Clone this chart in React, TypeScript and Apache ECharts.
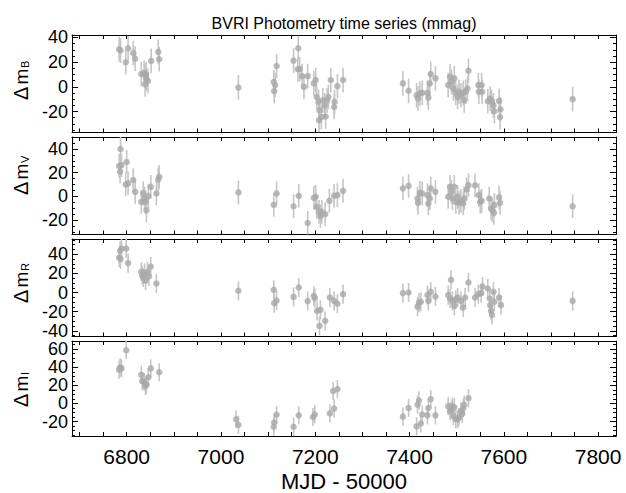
import React, { useEffect, useRef } from "react";
import * as echarts from "echarts";

// ---- data: [MJD - 50000, delta mag (mmag)] ----
const bandB: number[][] = [
  [6784, 30.5], [6787, 29.4], [6798, 19.9], [6803, 31.3], [6814, 27.3], [6818, 22.9],
  [6831, 10.4], [6837, 11.4], [6840, 8.7], [6842, 6.5], [6839, 2], [6845, 4.6], [6841, 10],
  [6852, 21], [6867, 28.3], [6869, 22.4], [7037, -0.5], [7112, 4], [7113, -3.5], [7115, 1.4],
  [7118, 16.9], [7154, 21.2], [7164, 31.3], [7163, 14.2], [7167, 14.4], [7172, 8.7], [7176, 0],
  [7184, 8.7], [7197, 2.8], [7201, 5.5], [7203, -8.2], [7207, -12.2], [7209, -19], [7208, -27],
  [7213, -24.5], [7216, -10.9], [7220, -15], [7222, -24], [7225, -10.9], [7228, -8.2],
  [7233, 5.5], [7240, -16.3], [7241, -12.2], [7247, 0.6], [7259, 5.5], [7386, 2.8],
  [7398, -3.2], [7415, -6.8], [7418, -9.5], [7422, -5.4], [7427, -4.9], [7438, -4.9],
  [7440, -8.7], [7443, 2.8], [7445, 10.4], [7455, 6.9], [7482, 1.4], [7486, 8.2], [7489, 4],
  [7493, -1.4], [7495, 6.9], [7498, -4.9], [7502, -8.2], [7505, -4], [7509, -6.8], [7514, -4.9],
  [7516, -10.9], [7519, -4], [7523, -1.4], [7525, 13], [7546, 1.4], [7547, -4], [7553, 1.4],
  [7554, -4], [7566, -11.7], [7571, -9.5], [7574, -12.2], [7578, -15], [7580, -19.8],
  [7590, -11.4], [7593, -18.2], [7592, -24.5], [7746, -10],
];

const bandV: number[][] = [
  [6787, 39.9], [6784, 25.6], [6786, 20.8], [6789, 26.4], [6800, 29], [6798, 10.1], [6803, 11],
  [6814, 13.8], [6818, 3.9], [6831, -4.6], [6835, 2.5], [6838, -1.7], [6840, -4.6], [6842, -11.6],
  [6846, 0.3], [6851, 8.1], [6863, 2.5], [6867, 14.3], [6869, 16.5], [7037, 3.4], [7112, -7.1],
  [7118, 2.5], [7154, -8.2], [7165, 0.5], [7184, -22.3], [7197, -1.2], [7201, -0.3], [7203, -8.8],
  [7208, -13], [7211, -16.6], [7214, -13], [7221, -14.9], [7230, -3.7], [7240, 0.5], [7247, 1.1],
  [7259, 4.7], [7386, 6.8], [7398, 8.9], [7417, -1.7], [7418, -5.4], [7422, 3], [7427, 2.5],
  [7438, 1.1], [7440, -5.9], [7443, -1.7], [7445, 6.8], [7455, 3.9], [7482, -0.3], [7486, 8.1],
  [7489, 3.9], [7491, -1.7], [7495, 8.1], [7498, -4.6], [7502, -0.3], [7505, -5.4], [7509, -3.7],
  [7514, -5.9], [7516, -1.7], [7521, 5.9], [7525, 9.5], [7539, 9.3], [7547, 1.1], [7550, -4.6],
  [7553, -3.7], [7569, -1.7], [7573, -10.1], [7576, -11.6], [7579, -13.8], [7580, -7.3],
  [7590, -0.8], [7592, -5.4], [7746, -8.2],
];

const bandR: number[][] = [
  [6784, 36.6], [6786, 43.7], [6787, 35], [6789, 46.1], [6799, 46.1], [6803, 30.8], [6831, 21.7],
  [6833, 18.2], [6835, 15.7], [6838, 20.3], [6840, 12.3], [6844, 21.7], [6847, 16.8], [6851, 27.2],
  [6863, 9.4], [7037, 1.8], [7112, 2.8], [7113, -11.1], [7118, -8.4], [7154, -4.5], [7165, 5.2],
  [7184, -9], [7197, -3.5], [7199, -5.9], [7204, -19.2], [7209, -34.9], [7211, -18.1],
  [7221, -29.6], [7231, -5.2], [7240, -8.7], [7247, -11.8], [7259, -1.7], [7386, -0.6], [7398, 0],
  [7417, -14.7], [7420, -10.5], [7424, -9.7], [7438, -2.7], [7440, -8.7], [7445, 0.7],
  [7455, -4.2], [7482, -2.7], [7488, 13.3], [7486, -6.3], [7491, -8.7], [7495, -13.9],
  [7498, -7.6], [7502, -5.2], [7509, -8.7], [7514, -15.7], [7518, -5.2], [7525, 10.5],
  [7539, -5.2], [7546, -1.7], [7552, -0.6], [7555, 6.3], [7566, 4.2], [7570, -6.3], [7571, -13.2],
  [7573, -19.2], [7575, -23.4], [7578, 0.7], [7580, -9.7], [7590, -5.2], [7594, -13.2],
  [7746, -8.7],
];

const bandI: number[][] = [
  [6784, 37.3], [6786, 39.8], [6789, 38.7], [6799, 58.8], [6831, 31.6], [6833, 24.7], [6837, 23.7],
  [6840, 19.4], [6842, 20.9], [6846, 29], [6851, 38.7], [6869, 34.4], [7032, -17.5], [7037, -23.7],
  [7112, -25.8], [7113, -21.1], [7118, -12.5], [7154, -25.8], [7165, -13.2], [7195, -15],
  [7199, -12.2], [7231, -11], [7238, 13.7], [7240, -5.7], [7247, 15.8], [7386, -14.6], [7398, -5],
  [7415, -25.4], [7417, -1.4], [7420, 3.2], [7424, -22.2], [7427, -12.2], [7438, -13.2],
  [7440, -5], [7445, 4.7], [7455, -13.2], [7482, -3.2], [7486, -8.6], [7489, -6.8], [7491, -3.2],
  [7493, -14], [7495, -4.3], [7498, -17.5], [7502, -17.5], [7505, -15], [7509, -8.6],
  [7512, -11.4], [7514, -5], [7516, -1.4], [7525, 5.8],
];

// typical 1-sigma error per band (mmag)
const errB = 10;
const errV = 10;
const errR = 10;
const errI = 10;

// ---- ticks ----
const xTickValues = [6700, 6750, 6800, 6850, 6900, 6950, 7000, 7050, 7100, 7150, 7200, 7250, 7300,
  7350, 7400, 7450, 7500, 7550, 7600, 7650, 7700, 7750, 7800];
const xLabelValues = [6800, 7000, 7200, 7400, 7600, 7800];

const yMajorB = [-20, 0, 20, 40];
const yMinorB = [-35, -30, -25, -20, -15, -10, -5, 0, 5, 10, 15, 20, 25, 30, 35, 40];
const yMajorV = [-20, 0, 20, 40];
const yMinorV = [-30, -25, -20, -15, -10, -5, 0, 5, 10, 15, 20, 25, 30, 35, 40, 45];
const yMajorR = [-40, -20, 0, 20, 40];
const yMinorR = [-45, -40, -35, -30, -25, -20, -15, -10, -5, 0, 5, 10, 15, 20, 25, 30, 35, 40, 45, 50, 55];
const yMajorI = [-20, 0, 20, 40, 60];
const yMinorI = [-35, -30, -25, -20, -15, -10, -5, 0, 5, 10, 15, 20, 25, 30, 35, 40, 45, 50, 55, 60, 65];

const bandNames = ["B", "V", "R", "I"];
const titleText = "BVRI Photometry time series (mmag)";
const xName = "MJD - 50000";

const FONT = "'Liberation Sans', Arial, Helvetica, sans-serif";
const X_MIN = 6684;
const X_MAX = 7838;
const GRID_LEFT = 72;
const GRID_WIDTH = 544;

const panels = [
  { data: bandB, err: errB, min: -37, max: 42, top: 35, height: 97.5, major: yMajorB, minor: yMinorB, labelY: 100 },
  { data: bandV, err: errV, min: -32, max: 50, top: 137, height: 97.5, major: yMajorV, minor: yMinorV, labelY: 195 },
  { data: bandR, err: errR, min: -46, max: 56, top: 239, height: 97.5, major: yMajorR, minor: yMinorR, labelY: 303 },
  { data: bandI, err: errI, min: -36, max: 69, top: 341, height: 97.5, major: yMajorI, minor: yMinorI, labelY: 407 },
];

export default function App() {
  const ref = useRef<HTMLDivElement>(null);

  useEffect(() => {
    if (!ref.current) return;
    const chart = echarts.init(ref.current, null, { renderer: "svg" });

    const grid: any[] = [];
    const xAxis: any[] = [];
    const yAxis: any[] = [];
    const series: any[] = [];
    const graphic: any[] = [];

    const lineStyle = { color: "#000", width: 1 };
    const yLabelStyle = {
      show: true, margin: 4, fontSize: 18, color: "#000", fontFamily: FONT,
      formatter: (v: number) => String(v),
    };

    panels.forEach((p, i) => {
      grid.push({ left: GRID_LEFT, width: GRID_WIDTH, top: p.top, height: p.height, containLabel: false });
      const last = i === panels.length - 1;
      // bottom x axis
      xAxis.push({
        type: "value", gridIndex: i, position: "bottom", min: X_MIN, max: X_MAX,
        axisLine: { show: true, onZero: false, lineStyle },
        axisTick: { show: true, inside: true, length: 4, customValues: xTickValues, lineStyle },
        axisLabel: {
          show: last, customValues: xLabelValues, margin: 10, fontSize: 21,
          color: "#000", fontFamily: FONT,
          formatter: (v: number) => String(v),
        },
        splitLine: { show: false },
        name: last ? xName : "",
        nameLocation: "middle", nameGap: 34,
        nameTextStyle: { fontSize: 22, color: "#000", fontFamily: FONT },
      });
      // top x axis (mirror ticks)
      xAxis.push({
        type: "value", gridIndex: i, position: "top", min: X_MIN, max: X_MAX,
        axisLine: { show: true, onZero: false, lineStyle },
        axisTick: { show: true, inside: true, length: 4, customValues: xTickValues, lineStyle },
        axisLabel: { show: false },
        splitLine: { show: false },
      });
      const baseY = { type: "value", gridIndex: i, min: p.min, max: p.max, splitLine: { show: false } };
      // labels split over two overlaid axes so none gets auto-hidden
      const labelsA = p.major.filter((_, k) => k % 2 === 0);
      const labelsB = p.major.filter((_, k) => k % 2 === 1);
      // left major
      yAxis.push({
        ...baseY, position: "left",
        axisLine: { show: true, onZero: false, lineStyle },
        axisTick: { show: true, inside: true, length: 6, customValues: p.major, lineStyle },
        axisLabel: { ...yLabelStyle, customValues: labelsA },
      });
      // left minor
      yAxis.push({
        ...baseY, position: "left",
        axisLine: { show: false },
        axisTick: { show: true, inside: true, length: 3, customValues: p.minor, lineStyle },
        axisLabel: { ...yLabelStyle, customValues: labelsB },
      });
      // right major
      yAxis.push({
        ...baseY, position: "right",
        axisLine: { show: true, onZero: false, lineStyle },
        axisTick: { show: true, inside: true, length: 6, customValues: p.major, lineStyle },
        axisLabel: { show: false },
      });
      // right minor
      yAxis.push({
        ...baseY, position: "right",
        axisLine: { show: false },
        axisTick: { show: true, inside: true, length: 3, customValues: p.minor, lineStyle },
        axisLabel: { show: false },
      });

      const err = p.err;
      series.push({
        type: "custom",
        xAxisIndex: 2 * i,
        yAxisIndex: 4 * i,
        clip: true,
        z: 1,
        silent: true,
        data: p.data.map((d) => [d[0], d[1]]),
        encode: { x: 0, y: 1 },
        renderItem: (params: any, api: any) => {
          const x = api.value(0);
          const y = api.value(1);
          const a = api.coord([x, y - err]);
          const b = api.coord([x, y + err]);
          return {
            type: "line",
            shape: { x1: a[0], y1: a[1], x2: b[0], y2: b[1] },
            style: { stroke: "#c6c6c6", lineWidth: 1.6 },
          };
        },
      });
      series.push({
        type: "scatter",
        xAxisIndex: 2 * i,
        yAxisIndex: 4 * i,
        z: 2,
        symbol: "circle",
        symbolSize: 6.5,
        itemStyle: { color: "#a9a9a9" },
        data: p.data,
      });

      // y axis name: Δ m_X
      graphic.push({
        type: "text", x: 20.5, y: p.labelY, rotation: Math.PI / 2,
        style: { text: "Δ", font: `20px ${FONT}`, fill: "#000", align: "left", verticalAlign: "middle" },
      });
      graphic.push({
        type: "text", x: 21, y: p.labelY - 15.5, rotation: Math.PI / 2,
        style: { text: "m", font: `19px ${FONT}`, fill: "#000", align: "left", verticalAlign: "middle" },
      });
      graphic.push({
        type: "text", x: 25, y: p.labelY - 32, rotation: Math.PI / 2,
        style: { text: bandNames[i], font: `11px ${FONT}`, fill: "#000", align: "left", verticalAlign: "middle" },
      });
    });

    graphic.push({
      type: "text", x: 344, y: 23.5,
      style: { text: titleText, font: `16px ${FONT}`, fill: "#000", align: "center", verticalAlign: "middle" },
    });

    chart.setOption({
      animation: false,
      backgroundColor: "#fff",
      grid,
      xAxis,
      yAxis,
      series,
      graphic,
    });

    return () => chart.dispose();
  }, []);

  return (
    <div
      ref={ref}
      style={{ position: "fixed", left: 0, top: 0, width: 626, height: 493, background: "#fff" }}
    />
  );
}
